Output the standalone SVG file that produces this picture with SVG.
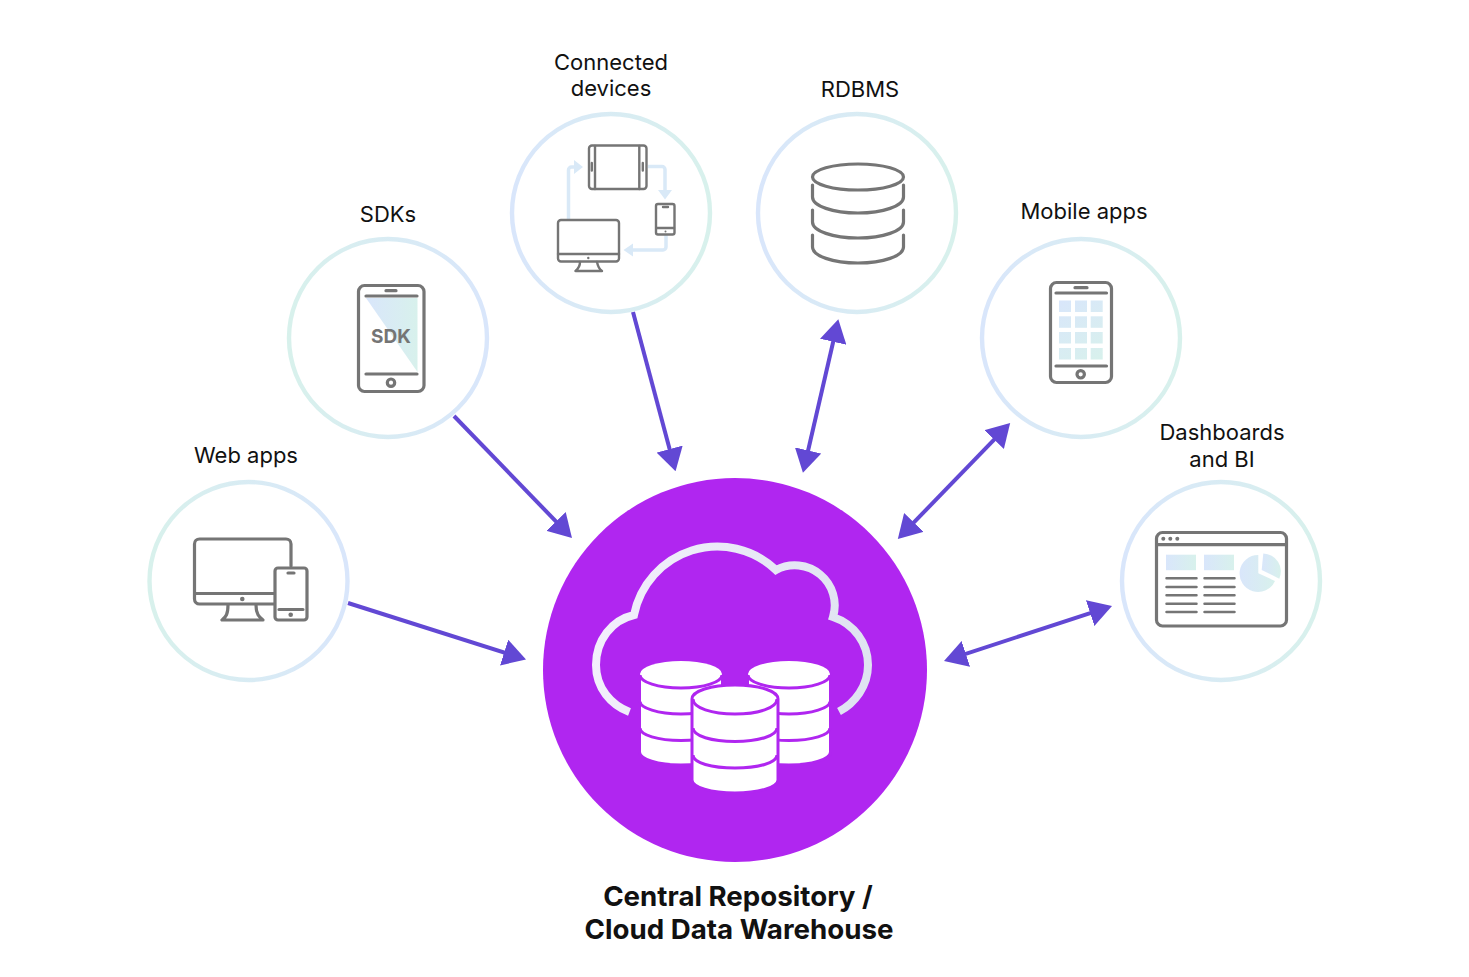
<svg xmlns="http://www.w3.org/2000/svg" width="1469" height="977" viewBox="0 0 1469 977">
<style>
.lbl{font-family:"Inter","Liberation Sans",sans-serif;font-size:22px;fill:#111;text-anchor:middle}
.ttl{font-family:"Inter","Liberation Sans",sans-serif;font-size:27.7px;font-weight:700;fill:#111;text-anchor:middle}
.ring{fill:#fff;stroke-width:4.4}
.ic{fill:none;stroke:#757575;stroke-width:3.2;stroke-linecap:round;stroke-linejoin:round}
.ic2{fill:none;stroke:#757575;stroke-width:2.4;stroke-linecap:round;stroke-linejoin:round}
.dot{fill:#757575}
.flow{fill:none;stroke:#d9e9f7;stroke-width:3.5;stroke-linejoin:round}
.flowh{fill:#d9e9f7}
.arrow{fill:none;stroke:#6248d4;stroke-width:4}
.db{fill:#fff;stroke:#b026f0;stroke-width:3}
.seam{fill:none;stroke:#b026f0;stroke-width:3}
</style>
<defs>
<linearGradient id="bt" x1="0" y1="0" x2="1" y2="0"><stop offset="0" stop-color="#d9e6fb"/><stop offset="1" stop-color="#d8f1ec"/></linearGradient>
<linearGradient id="tb" x1="0" y1="0" x2="1" y2="0"><stop offset="0" stop-color="#d8f1ec"/><stop offset="1" stop-color="#d9e6fb"/></linearGradient>
<linearGradient id="grid" gradientUnits="userSpaceOnUse" x1="1059" y1="300" x2="1103" y2="360"><stop offset="0" stop-color="#d9e6fb"/><stop offset="1" stop-color="#d8f1ec"/></linearGradient>
<linearGradient id="cloud" gradientUnits="userSpaceOnUse" x1="595" y1="600" x2="870" y2="640"><stop offset="0" stop-color="#f3effc"/><stop offset="1" stop-color="#dfe3f1"/></linearGradient>
<marker id="head" markerUnits="userSpaceOnUse" markerWidth="23" markerHeight="27" viewBox="0 0 23 27" refX="17" refY="13.5" orient="auto-start-reverse"><path d="M0,0 L23,13.5 L0,27 Z" fill="#6248d4"/></marker>
</defs>

<g id="connectors">
<line class="arrow" x1="348" y1="603" x2="520.300" y2="657.700" marker-end="url(#head)"/>
<line class="arrow" x1="454" y1="416" x2="567.800" y2="533.700" marker-end="url(#head)"/>
<line class="arrow" x1="633" y1="312" x2="674" y2="465.500" marker-end="url(#head)"/>
<line class="arrow" x1="837" y1="325.200" x2="804.300" y2="467" marker-start="url(#head)" marker-end="url(#head)"/>
<line class="arrow" x1="1006" y1="427.300" x2="902" y2="534.700" marker-start="url(#head)" marker-end="url(#head)"/>
<line class="arrow" x1="1106.300" y1="607.900" x2="949.700" y2="659.100" marker-start="url(#head)" marker-end="url(#head)"/>
</g>

<g id="web-apps">
<circle class="ring" cx="248.500" cy="581" r="99" stroke="url(#tb)"/>
<path class="ic" d="M291,566 V544 a5,5 0 0 0 -5,-5 H199.500 a5,5 0 0 0 -5,5 V599 a5,5 0 0 0 5,5 H274 M194.500,593.500 H274 M228,605 C228,614 226,617 222,620 H263 C259,617 256,614 256,605"/>
<circle class="dot" cx="242.300" cy="599" r="2.300"/>
<rect class="ic" x="275" y="568" width="32" height="52" rx="3"/>
<path class="ic" d="M288,573 H294 M279,609.500 H303"/>
<circle class="dot" cx="290.700" cy="614.700" r="2.300"/>
<text class="lbl" x="246" y="463">Web apps</text>
</g>

<g id="sdks">
<circle class="ring" cx="388" cy="338" r="99" stroke="url(#tb)"/>
<path d="M366,298 H417.500 V372 Z" fill="url(#bt)"/>
<rect class="ic" x="358.500" y="285.500" width="65.500" height="106" rx="6"/>
<path class="ic" d="M366,296 H417 M386,290.700 H396 M366,374 H417"/>
<circle class="ic" cx="391" cy="382.700" r="3.700"/>
<text x="391" y="343" font-family="Inter,'Liberation Sans',sans-serif" font-size="19" font-weight="700" fill="#757575" text-anchor="middle">SDK</text>
<text class="lbl" x="388" y="222">SDKs</text>
</g>

<g id="connected-devices">
<circle class="ring" cx="611" cy="213" r="99" stroke="url(#bt)"/>
<path class="flow" d="M568.500,219 V170 a3,3 0 0 1 3,-3 H577"/><path class="flowh" d="M583,167 L574,160 V174 Z"/>
<path class="flow" d="M648,166.500 H662 a3,3 0 0 1 3,3 V192"/><path class="flowh" d="M665,199.500 L658,190 H672 Z"/>
<path class="flow" d="M666,235 V247 a3,3 0 0 1 -3,3 H630"/><path class="flowh" d="M623.500,250 L633,243.500 V256.500 Z"/>
<rect class="ic2" x="589" y="145.500" width="57.500" height="43.500" rx="3"/>
<path class="ic2" d="M595,146 V189 M639.300,146 V189 M591.800,163 V170.500 M642.800,163 V170.500"/>
<rect class="ic2" x="656" y="204" width="18.500" height="30.500" rx="2"/>
<path class="ic2" d="M663,207 H668 M657,228 H674"/>
<circle class="dot" cx="665.500" cy="231.500" r="1"/>
<rect class="ic2" x="558" y="220" width="61" height="41.500" rx="3"/>
<path class="ic2" d="M558,254 H619 M580,262 C580,267 578,269 575.500,271 H602 C599,269 598,267 597,262"/>
<circle class="dot" cx="588.300" cy="258" r="1.200"/>
<text class="lbl" x="611" y="70">Connected</text>
<text class="lbl" x="611" y="96">devices</text>
</g>

<g id="rdbms">
<circle class="ring" cx="857" cy="213" r="99" stroke="url(#bt)"/>
<ellipse class="ic" cx="858" cy="177" rx="45.500" ry="13"/>
<path class="ic" d="M812.500,185 V197 C812.500,206 833,213 858,213 S903.500,206 903.500,197 V185"/>
<path class="ic" d="M812.500,210 V222 C812.500,231 833,238 858,238 S903.500,231 903.500,222 V210"/>
<path class="ic" d="M812.500,235 V247 C812.500,256 833,263 858,263 S903.500,256 903.500,247 V235"/>
<text class="lbl" x="860" y="97">RDBMS</text>
</g>

<g id="mobile-apps">
<circle class="ring" cx="1081" cy="338" r="99" stroke="url(#bt)"/>
<g fill="url(#grid)">
<rect x="1059" y="300.500" width="12" height="11.500"/><rect x="1075" y="300.500" width="12" height="11.500"/><rect x="1090.700" y="300.500" width="12" height="11.500"/>
<rect x="1059" y="316.300" width="12" height="11.500"/><rect x="1075" y="316.300" width="12" height="11.500"/><rect x="1090.700" y="316.300" width="12" height="11.500"/>
<rect x="1059" y="332" width="12" height="11.500"/><rect x="1075" y="332" width="12" height="11.500"/><rect x="1090.700" y="332" width="12" height="11.500"/>
<rect x="1059" y="348" width="12" height="11.500"/><rect x="1075" y="348" width="12" height="11.500"/><rect x="1090.700" y="348" width="12" height="11.500"/>
</g>
<rect class="ic" x="1050.500" y="282.500" width="61" height="100" rx="6"/>
<path class="ic" d="M1056,293 H1106.500 M1075,287.700 H1087 M1056,366 H1106.500"/>
<circle class="ic" cx="1080.700" cy="374.300" r="3.700"/>
<text class="lbl" x="1084" y="219">Mobile apps</text>
</g>

<g id="dashboards-bi">
<circle class="ring" cx="1221" cy="581" r="99" stroke="url(#bt)"/>
<rect class="ic" x="1156.500" y="532.500" width="130" height="93.500" rx="6"/>
<path class="ic" d="M1157,544.700 H1286"/>
<circle class="dot" cx="1163.300" cy="538.700" r="2"/><circle class="dot" cx="1170.300" cy="538.700" r="2"/><circle class="dot" cx="1177.300" cy="538.700" r="2"/>
<rect x="1166" y="554.700" width="30" height="15.500" fill="url(#bt)"/>
<rect x="1204" y="554.700" width="30" height="15.500" fill="url(#bt)"/>
<path class="ic" d="M1166.500,578.300 H1196.500 M1204.500,578.300 H1234.500 M1166.500,587 H1196.500 M1204.500,587 H1234.500 M1166.500,595.300 H1196.500 M1204.500,595.300 H1234.500 M1166.500,603.700 H1196.500 M1204.500,603.700 H1234.500 M1166.500,612 H1196.500 M1204.500,612 H1234.500" style="stroke-width:2.500"/>
<path d="M1258.300,573.300 L1258.300,555 A18.500,18.500 0 1 0 1275,581 Z" fill="url(#bt)"/>
<path d="M1261.700,570 L1263.300,553.500 A18,18 0 0 1 1279.300,578.700 Z" fill="url(#bt)"/>
<text class="lbl" x="1222" y="440">Dashboards</text>
<text class="lbl" x="1222" y="467">and BI</text>
</g>

<g id="central-repository">
<circle cx="735" cy="670" r="192" fill="#b026f0"/>
<path d="M629.500,712 C611,705 596,688 596,665 C596,640 612,620 634,615 A85,85 0 0 1 776,570 A40,40 0 0 1 833,617 C854,624 868,643 868,665 C868,686 855,703 839,711.500" fill="none" stroke="url(#cloud)" stroke-width="8"/>
<g>
<path class="db" d="M639.500,674 V752 C639.500,759 658,765 681,765 S722.500,759 722.500,752 V674 Z"/>
<ellipse cx="681" cy="674" rx="41" ry="13" fill="#fff"/>
<path class="seam" d="M640,675 C640,682 658,688 681,688 S722,682 722,675 M640,701.500 C640,708 658,714 681,714 S722,708 722,701.500 M640,728 C640,735 658,740.500 681,740.500 S722,735 722,728"/>
</g>
<g>
<path class="db" d="M747.500,674 V752 C747.500,759 766,765 789,765 S830.500,759 830.500,752 V674 Z"/>
<ellipse cx="789" cy="674" rx="41" ry="13" fill="#fff"/>
<path class="seam" d="M748,675 C748,682 766,688 789,688 S830,682 830,675 M748,701.500 C748,708 766,714 789,714 S830,708 830,701.500 M748,728 C748,735 766,740.500 789,740.500 S830,735 830,728"/>
</g>
<g>
<path class="db" d="M692,699 V780 C692,787 711,793 735,793 S778,787 778,780 V699 C778,691 759,685 735,685 S692,691 692,699 Z"/>
<path class="seam" d="M693,699 C693,708 712,714 735,714 S777,708 777,699 M693,728 C693,736 712,741.500 735,741.500 S777,736 777,728 M693,755 C693,763 712,768 735,768 S777,763 777,755"/>
</g>
<text class="ttl" x="738" y="906">Central Repository /</text>
<text class="ttl" x="739" y="939">Cloud Data Warehouse</text>
</g>
</svg>
